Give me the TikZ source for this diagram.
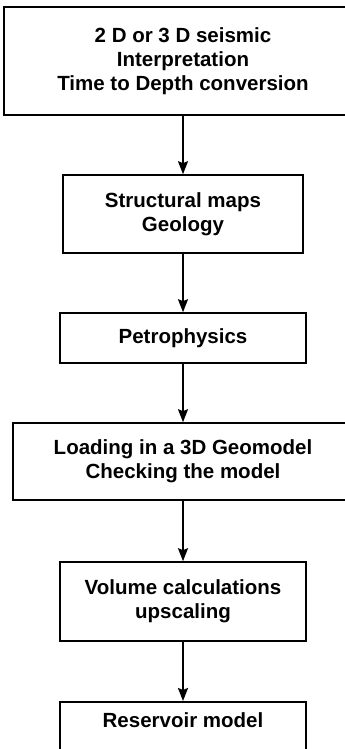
\documentclass[tikz,border=0pt]{standalone}
\usepackage{fontspec}
\setmainfont{Liberation Sans}
\usetikzlibrary{arrows.meta}
\begin{document}
\begin{tikzpicture}[x=1pt,y=-1pt,
  stage/.style={draw, line width=1.6pt, inner sep=0pt, align=center,
    font=\bfseries\fontsize{20.5}{24}\selectfont},
  flow/.style={line width=1.8pt, -{Stealth[length=13pt,width=10pt,inset=2pt]}}]
\useasboundingbox (0,0) rectangle (345,749);
\clip (0,0) rectangle (345,749);
% workflow stages
\node[stage, minimum width=358pt, minimum height=108pt] (seis) at (183,61)
  {2 D or 3 D seismic\\Interpretation\\Time to Depth conversion};
\node[stage, minimum width=240pt, minimum height=78pt] (struct) at (183,214)
  {Structural maps\\Geology};
\node[stage, minimum width=246pt, minimum height=50pt] (petro) at (183,338)
  {Petrophysics};
\node[stage, minimum width=340pt, minimum height=77pt] (geo) at (183,461.5)
  {Loading in a 3D Geomodel\\Checking the model};
\node[stage, minimum width=246pt, minimum height=79pt] (vol) at (183,601.5)
  {Volume calculations\\upscaling};
\node[stage, anchor=north, minimum width=246pt, text height=26pt, text depth=30pt] (res) at (183,701)
  {Reservoir model};
% connectors
\draw[flow] (seis) -- (struct);
\draw[flow] (struct) -- (petro);
\draw[flow] (petro) -- (geo);
\draw[flow] (geo) -- (vol);
\draw[flow] (vol) -- (res);
\end{tikzpicture}
\end{document}
